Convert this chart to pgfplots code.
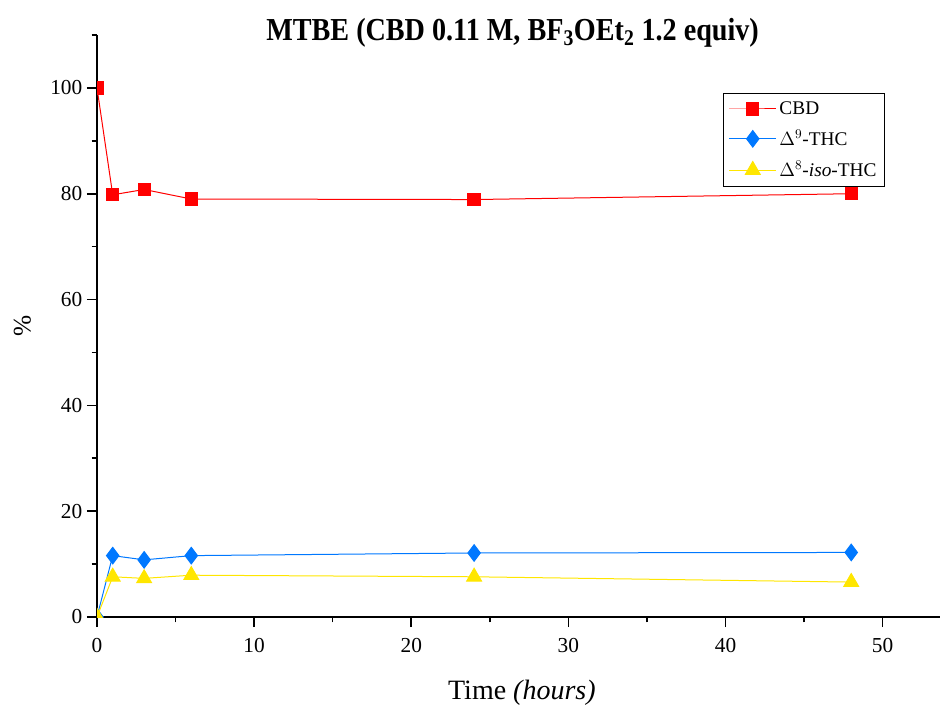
\documentclass[border=0pt]{standalone}
\usepackage{pgfplots}
\pgfplotsset{compat=1.18}
\usepackage{fontspec}
\setmainfont{Liberation Serif}

\definecolor{cbdred}{RGB}{255,0,0}
\definecolor{thcblue}{RGB}{0,120,255}
\definecolor{isoyellow}{RGB}{255,230,0}

\pgfplotstableread{
t   cbd    thc    iso
0   100.0  0.0    0.0
1   79.8   11.6   7.6
3   80.8   10.8   7.3
6   79.0   11.6   7.9
24  78.9   12.1   7.6
48  80.0   12.2   6.6
}\datatable

\begin{document}
\begin{tikzpicture}
\begin{axis}[
  name=main,
  at={(0pt,0pt)}, anchor=south west,
  scale only axis,
  width=632.25pt, height=436.5pt,
  xmin=0, xmax=53.65, ymin=0, ymax=110,
  axis lines*=left,
  axis line style={line width=1.3pt, -},
  xtick={0,10,...,50}, ytick={0,20,...,100},
  minor xtick={5,15,...,45}, minor ytick={10,30,...,110},
  tick align=outside,
  major tick length=7.5pt, minor tick length=4pt,
  every tick/.style={black, line width=1.2pt},
  tick label style={font=\fontsize{16}{19}\selectfont},
  /pgf/number format/assume math mode=true,
  xticklabel style={yshift=-5pt},
  yticklabel style={xshift=0pt},
  xlabel={Time \textit{(hours)}},
  xlabel style={font=\fontsize{21}{25}\selectfont, at={(0.504,0)}, anchor=base, yshift=-62pt},
  ylabel={\%},
  ylabel style={font=\fontsize{19}{22}\selectfont, at={(0,0.5)}, anchor=center, yshift=56pt},
  title={\scalebox{0.88}[1]{\textbf{MTBE (CBD 0.11 M, BF$_{\mathbf{3}}$OEt$_{\mathbf{2}}$ 1.2 equiv)}}},
  title style={font=\fontsize{24}{28}\selectfont, at={(0.493,1)}, anchor=base, yshift=-10pt},
  clip marker paths=true,
  legend style={at={(0.7426,0.900)}, anchor=north west, draw=black, line width=0.6pt,
    font=\fontsize{14.5}{17}\selectfont, row sep=6.25pt, inner sep=4pt,
    cells={anchor=west}},
  legend image code/.code={
    \draw[#1, mark repeat=2, mark phase=2] plot coordinates {(0cm,0cm) (0.62cm,0cm) (1.24cm,0cm)};},
]
\addplot[cbdred, line width=0.75pt, mark=square*, mark size=4.6pt,
  mark options={solid, fill=cbdred, draw=cbdred}] table[x=t, y=cbd] {\datatable};
\addlegendentry{CBD}
\addplot[thcblue, line width=0.75pt, mark=diamond*, mark size=6.2pt,
  mark options={solid, fill=thcblue, draw=thcblue}] table[x=t, y=thc] {\datatable};
\addlegendentry{$\Delta^{9}$-THC}
\addplot[isoyellow, line width=0.75pt, mark=triangle*, mark size=6.4pt,
  mark options={solid, fill=isoyellow, draw=isoyellow}] table[x=t, y=iso] {\datatable};
\addlegendentry{$\Delta^{8}$-\textit{iso}-THC}
\end{axis}
\pgfresetboundingbox
\path[use as bounding box] ([xshift=-72.75pt, yshift=-66.75pt]main.south west)
  rectangle ([xshift=0.75pt, yshift=26.25pt]main.north east);
\end{tikzpicture}
\end{document}
